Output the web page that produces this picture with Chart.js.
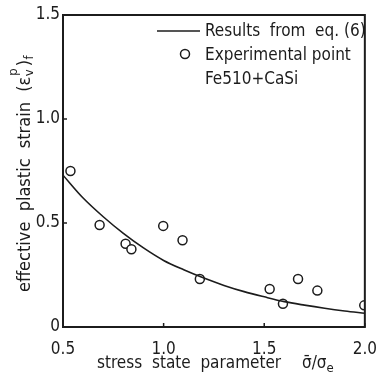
<!DOCTYPE html>
<html><head><meta charset="utf-8">
<script src="https://cdn.jsdelivr.net/npm/chart.js@4/dist/chart.umd.min.js"></script>
<style>html,body{margin:0;padding:0;background:#fff;}#wrap{width:389px;height:383px;}</style>
</head><body><div id="wrap"><canvas id="c" width="389" height="383"></canvas></div>
<script>
const FONT = '"Liberation Sans Narrow","DejaVu Sans Condensed","Liberation Sans",sans-serif';
// Curve "Results from eq.(6)"
const curveX = [0.5,0.6,0.7,0.8,0.9,1.0,1.1,1.2,1.3,1.4,1.5,1.6,1.7,1.8,1.9,2.0];
const curveY = [0.73,0.62,0.53,0.45,0.38,0.32,0.275,0.235,0.20,0.17,0.145,0.122,0.105,0.09,0.077,0.066];
// Experimental points
const expX = [0.537,0.682,0.811,0.840,0.998,1.094,1.18,1.527,1.593,1.668,1.764,1.997];
const expY = [0.75,0.49,0.40,0.374,0.486,0.417,0.231,0.183,0.112,0.231,0.175,0.104];
const xTicks = [0.5,1.0,1.5,2.0];
const xTickLabels = ['0.5','1.0','1.5','2.0'];
const yTicks = [0,0.5,1.0,1.5];
const yTickLabels = ['0','0.5','1.0','1.5'];
const legendLabels = ['Results  from  eq. (6)','Experimental point','Fe510+CaSi'];
const xTitle = 'stress  state  parameter';
const xTitleSym = 'σ̄/σ';
const yTitle = 'effective  plastic  strain  (ε';

const ink = '#1c1c1c';

const decor = {
  id:'decor',
  afterDraw(chart){
    const ctx = chart.ctx, a = chart.chartArea;
    const xs = chart.scales.x, ys = chart.scales.y;
    ctx.save();
    ctx.strokeStyle = ink; ctx.lineWidth = 2;
    ctx.strokeRect(a.left, a.top, a.right-a.left, a.bottom-a.top);
    ctx.lineWidth = 1.5;
    xTicks.forEach(v=>{const p=xs.getPixelForValue(v); ctx.beginPath(); ctx.moveTo(p,a.bottom); ctx.lineTo(p,a.bottom-4); ctx.stroke();});
    yTicks.forEach(v=>{const p=ys.getPixelForValue(v); ctx.beginPath(); ctx.moveTo(a.left,p); ctx.lineTo(a.left+4,p); ctx.stroke();});
    // legend
    const d0 = chart.data.datasets[0], d1 = chart.data.datasets[1];
    ctx.fillStyle = ink; ctx.font = '17px '+FONT; ctx.textBaseline='middle'; ctx.textAlign='left';
    ctx.strokeStyle = d0.borderColor; ctx.lineWidth = d0.borderWidth;
    ctx.beginPath(); ctx.moveTo(157,31); ctx.lineTo(200,31); ctx.stroke();
    ctx.fillText(legendLabels[0], 205, 32);
    ctx.strokeStyle = d1.borderColor; ctx.lineWidth = d1.borderWidth;
    ctx.beginPath(); ctx.arc(185,54,d1.pointRadius,0,Math.PI*2); ctx.stroke();
    ctx.fillText(legendLabels[1], 205, 56);
    ctx.fillText(legendLabels[2], 205, 80);
    // x title
    ctx.font = '17px '+FONT;
    ctx.fillText(xTitle, 97, 364);
    ctx.fillText(xTitleSym, 302, 364);
    const w = ctx.measureText(xTitleSym).width;
    ctx.font = '13px '+FONT;
    ctx.fillText('e', 302+w, 369);
    // y title
    ctx.translate(25, 292); ctx.rotate(-Math.PI/2);
    ctx.font = '18px '+FONT; ctx.textBaseline='middle';
    ctx.fillText(yTitle, 0, 0);
    let x = ctx.measureText(yTitle).width;
    ctx.font = '13px '+FONT;
    ctx.fillText('v', x+0.5, 5);
    ctx.fillText('p', x+1, -11);
    x += ctx.measureText('p').width + 3;
    ctx.font = '18px '+FONT;
    ctx.fillText(')', x, 0);
    x += ctx.measureText(')').width;
    ctx.font = '13px '+FONT;
    ctx.fillText('f', x+0.5, 5);
    ctx.restore();
  }
};

new Chart(document.getElementById('c'), {
  type:'scatter',
  data:{datasets:[
    {label:legendLabels[0], data:curveX.map((x,i)=>({x, y:curveY[i]})), showLine:true, pointRadius:0,
     borderColor:ink, borderWidth:1.6, tension:0.4, cubicInterpolationMode:'monotone', fill:false},
    {label:legendLabels[1], data:expX.map((x,i)=>({x, y:expY[i]})), showLine:false, pointRadius:4.5,
     pointBackgroundColor:'#fff', backgroundColor:'#fff', borderColor:ink, pointBorderColor:ink, borderWidth:1.5, pointBorderWidth:1.5}
  ]},
  options:{
    responsive:false, animation:false, devicePixelRatio:1,
    layout:{padding:{left:0, top:15, right:13, bottom:0}},
    plugins:{legend:{display:false}, tooltip:{enabled:false}},
    scales:{
      x:{type:'linear', min:0.5, max:2.0,
         afterBuildTicks:s=>{s.ticks = xTicks.map(v=>({value:v}));},
         afterFit:s=>{s.height = 56;},
         grid:{display:false, drawTicks:false}, border:{display:false},
         ticks:{padding:12, color:ink, font:{family:FONT, size:17}, maxRotation:0,
           callback:(v)=>xTickLabels[xTicks.indexOf(v)]}},
      y:{type:'linear', min:0, max:1.5,
         afterBuildTicks:s=>{s.ticks = yTicks.map(v=>({value:v}));},
         afterFit:s=>{s.width = 63;},
         grid:{display:false, drawTicks:false}, border:{display:false},
         ticks:{padding:3, color:ink, font:{family:FONT, size:17},
           callback:(v)=>yTickLabels[yTicks.indexOf(v)]}}
    }
  },
  plugins:[decor]
});
</script></body></html>
